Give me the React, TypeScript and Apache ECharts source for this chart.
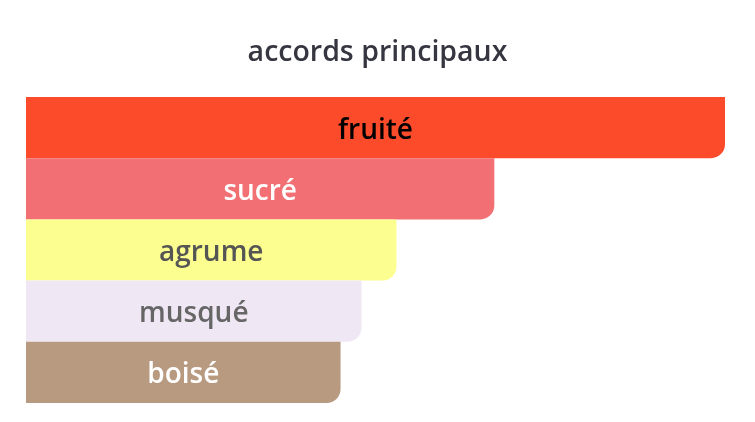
import React, { useEffect, useRef } from 'react';
import * as echarts from 'echarts';

const accords = ['fruité', 'sucré', 'agrume', 'musqué', 'boisé'];
const strengths = [100, 67, 53, 48, 45];
const barColors = ['#fc4b2b', '#f27073', '#fcff8f', '#f0e7f4', '#b79a80'];
const labelColors = ['#000000', '#ffffff', '#555555', '#666666', '#ffffff'];

const App: React.FC = () => {
  const chartRef = useRef<HTMLDivElement>(null);

  useEffect(() => {
    if (!chartRef.current) return;
    const chart = echarts.init(chartRef.current, undefined, { renderer: 'svg' });

    const option = {
      animation: false,
      textStyle: { fontFamily: 'Open Sans' },
      title: {
        text: 'accords principaux',
        left: 'center',
        top: 30,
        textStyle: { fontSize: 28.5, fontWeight: 600, color: '#363640', fontFamily: 'Open Sans' },
      },
      grid: { left: 26, right: 30, top: 97, bottom: 19 },
      xAxis: { type: 'value', min: 0, max: 100, show: false },
      yAxis: {
        type: 'category',
        data: accords,
        inverse: true,
        show: false,
      },
      series: [
        {
          type: 'bar',
          barCategoryGap: 0,
          data: strengths.map((v, i) => ({
            value: v,
            itemStyle: { color: barColors[i], borderRadius: [0, 0, 14, 0] },
            label: { color: labelColors[i] },
          })),
          label: {
            show: true,
            position: 'inside',
            formatter: (p: any) => accords[p.dataIndex],
            fontSize: 28,
            fontWeight: 600,
            fontFamily: 'Open Sans',
          },
        },
      ],
    };

    chart.setOption(option);
    return () => chart.dispose();
  }, []);

  return (
    <div
      ref={chartRef}
      style={{ position: 'fixed', left: 0, top: 0, width: 755, height: 422 }}
    />
  );
};

export default App;
